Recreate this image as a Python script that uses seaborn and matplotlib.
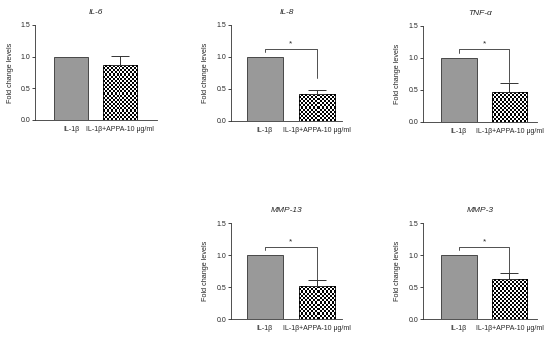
import numpy as np
import pandas as pd
import seaborn as sns
import matplotlib.pyplot as plt

# Values
genes = ["IL-6", "IL-8", "TNF-α", "MMP-13", "MMP-3"]
groups = ["IL-1β", "IL-1β+APPA-10 μg/ml"]
ctrl_vals = [1.0, 1.0, 1.0, 1.0, 1.0]
appa_vals = [0.86, 0.42, 0.46, 0.51, 0.62]
appa_err = [0.15, 0.07, 0.14, 0.10, 0.095]
signif = [False, True, True, True, True]
bracket_right_end = [None, 0.67, 0.63, 0.61, 0.71]

sns.set_style("ticks")
plt.rcParams["font.family"] = ["Liberation Sans", "DejaVu Sans"]

fig = plt.figure(figsize=(5.5, 3.37), dpi=100)

# axes boxes in figure fraction (left, bottom, width, height) and x limits
boxes = [
    (0.064, 0.644, 0.222, 0.282),
    (0.420, 0.641, 0.202, 0.285),
    (0.769, 0.638, 0.207, 0.286),
    (0.420, 0.053, 0.202, 0.285),
    (0.769, 0.053, 0.207, 0.285),
]
xlims = [(-0.73, 1.76), (-0.65, 1.48), (-0.71, 1.54), (-0.65, 1.48), (-0.71, 1.54)]

checker = (np.indices((60, 18)).sum(axis=0) % 2).astype(float)

for i, g in enumerate(genes):
    ax = fig.add_axes(boxes[i])
    df = pd.DataFrame({"group": groups, "value": [ctrl_vals[i], appa_vals[i]]})
    sns.barplot(data=df, x="group", y="value", ax=ax, width=0.7,
                palette=["#999999", "white"], hue="group", legend=False,
                edgecolor="#333333", linewidth=0.6, saturation=1)
    ax.set_ylim(0, 1.5)
    ax.set_xlim(*xlims[i])

    # checkerboard fill for the treated bar
    p = ax.patches[1]
    x0, w, h = p.get_x(), p.get_width(), p.get_height()
    nrows = max(1, int(round(h / 1.5 * 95 / 2.1)))
    ax.imshow(checker[:nrows, :], cmap="gray_r", vmin=0, vmax=1,
              extent=(x0, x0 + w, 0, h), aspect="auto",
              interpolation="nearest", clip_path=p, zorder=p.get_zorder() + 0.1)
    p.set_facecolor("none")
    p.set_zorder(p.get_zorder() + 0.2)
    p.set_edgecolor("black")

    # upward-only error bar
    ax.errorbar([1], [appa_vals[i]], yerr=[[0], [appa_err[i]]], fmt="none",
                ecolor="#333333", elinewidth=0.7, capsize=6.5, capthick=0.7)
    if signif[i]:
        yb = 1.13
        ax.plot([0, 0, 1, 1], [1.08, yb, yb, bracket_right_end[i]],
                color="#333333", lw=0.6)
        ax.text(0.5, yb + 0.08, "*", ha="center", va="center", fontsize=6)
    ax.set_xlim(*xlims[i])
    ax.set_ylim(0, 1.5)
    ax.set_yticks([0, 0.5, 1.0, 1.5])
    ax.set_yticklabels(["0.0", "0.5", "1.0", "1.5"])
    ax.tick_params(axis="both", labelsize=5.0, length=2, width=0.6, pad=1.5)
    ax.tick_params(axis="x", length=0, pad=4)
    ax.set_xlabel("")
    ax.set_ylabel("Fold change levels", fontsize=5.2, labelpad=5)
    ax.set_title(g, fontsize=6, style="italic", pad=8)
    sns.despine(ax=ax)
    for s in ["left", "bottom"]:
        ax.spines[s].set_linewidth(0.6)
        ax.spines[s].set_color("#333333")

fig.savefig("out.png", dpi=100)
